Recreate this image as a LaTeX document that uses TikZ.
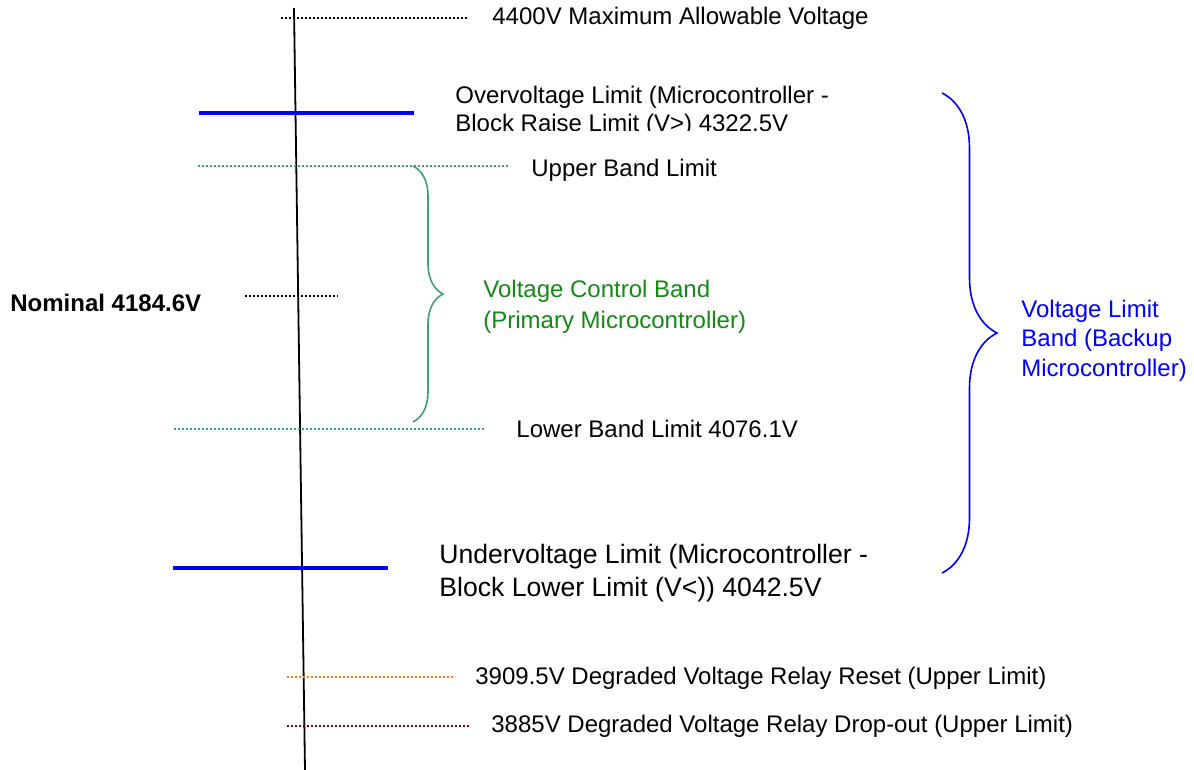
\documentclass[tikz,border=0pt]{standalone}
\usepackage{fontspec}
\setmainfont{Liberation Sans}
\usepackage{tikz}
\usetikzlibrary{decorations.pathreplacing}
\definecolor{vlimblue}{HTML}{0000FF}
\definecolor{vbandgreen}{HTML}{3DA071}
\definecolor{vtextgreen}{HTML}{138A13}
\definecolor{vrelayorange}{HTML}{FF7A10}
\definecolor{vrelayred}{HTML}{8B0000}

\begin{document}
\begin{tikzpicture}[x=0.5pt,y=-0.5pt,
  lvl/.style={line width=1.2pt,dash pattern=on 1.1pt off 0.9pt},
  lim/.style={draw=vlimblue,line width=1.6pt},
  lbl/.style={anchor=west,inner sep=0pt,font=\fontsize{12}{14.5}\selectfont,align=left},
  bandbrace/.style={decorate,decoration={brace,amplitude=#1},line width=0.8pt}
]
\useasboundingbox (0,0) rectangle (1194,770);
\draw[line width=0.9pt] (294,8) -- (305,770);
% maximum
\draw[lvl,black] (281,18) -- (468,18);
\node[lbl] (maxv) at (492,18) {4400V Maximum Allowable Voltage};
% overvoltage limit
\draw[lim] (199,113) -- (414,113);
\begin{scope}
\clip (440,75) rectangle (900,131);
\node[lbl,font=\fontsize{12}{14}\selectfont] (overv) at (455,111.5) {Overvoltage Limit (Microcontroller -\\Block Raise Limit (V>) 4322.5V};
\end{scope}
% control band
\draw[lvl,vbandgreen] (198,166) -- (508,166);
\node[lbl] (upband) at (531,170) {Upper Band Limit};
\draw[lvl,black] (245,296) -- (338,296);
\node[lbl,font=\bfseries\fontsize{12}{14.5}\selectfont] (nomv) at (10,303) {Nominal 4184.6V};
\draw[lvl,vbandgreen] (174,429) -- (484,429);
\node[lbl] (lowband) at (516,429) {Lower Band Limit 4076.1V};
\draw[bandbrace=15pt,vbandgreen] (413,166) -- (413,422);
\node[lbl,text=vtextgreen,font=\fontsize{12}{15.5}\selectfont] (ctrlband) at (483,306.5) {Voltage Control Band\\(Primary Microcontroller)};
% undervoltage limit
\draw[lim] (173,568) -- (388,568);
\node[lbl,font=\fontsize{13.3}{16.5}\selectfont] (underv) at (439,573.5) {Undervoltage Limit (Microcontroller -\\Block Lower Limit (V<)) 4042.5V};
\draw[bandbrace=27.5pt,vlimblue] (942,93) -- (942,573);
\node[lbl,text=vlimblue,font=\fontsize{12}{14.75}\selectfont] (limband) at (1021,340.5) {Voltage Limit\\Band (Backup\\Microcontroller)};
% degraded voltage relay
\draw[lvl,vrelayorange] (287,677) -- (455,677);
\node[lbl] (relayreset) at (475,678) {3909.5V Degraded Voltage Relay Reset (Upper Limit)};
\draw[lvl,vrelayred] (287,726) -- (470,726);
\node[lbl] (relaydrop) at (491,726) {3885V Degraded Voltage Relay Drop-out (Upper Limit)};
\end{tikzpicture}
\end{document}
